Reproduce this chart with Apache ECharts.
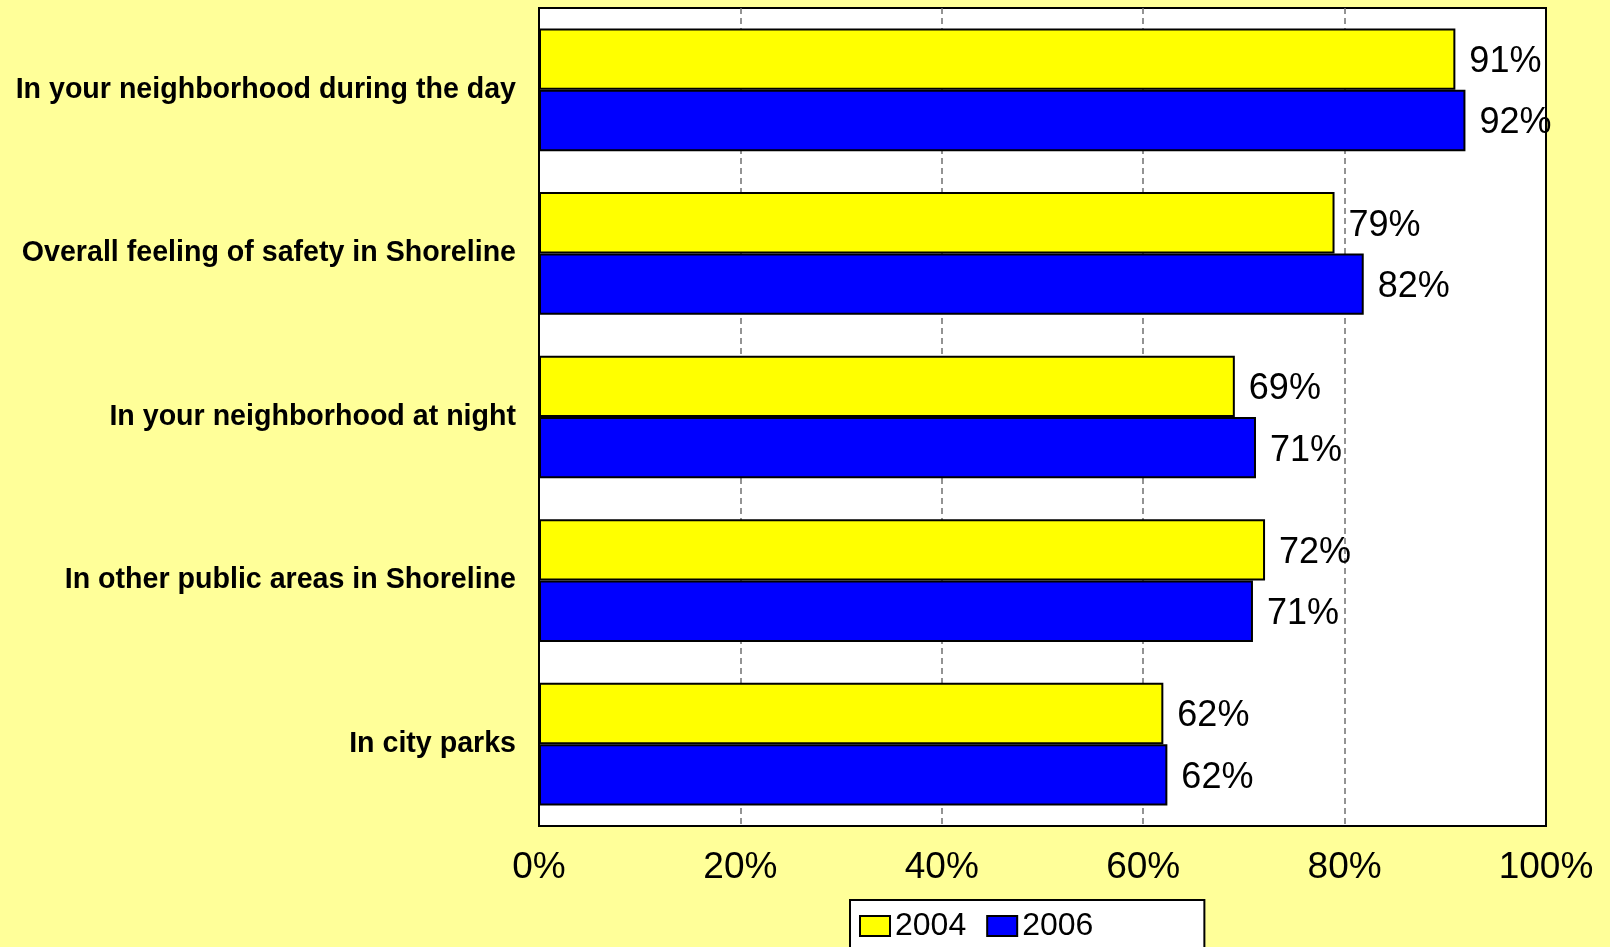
<!DOCTYPE html>
<html>
<head>
<meta charset="utf-8">
<script src="https://cdn.jsdelivr.net/npm/echarts@6/dist/echarts.min.js"></script>
<style>
  html, body { margin: 0; padding: 0; background: #FFFF99; }
  #chart { width: 1610px; height: 947px; }
</style>
</head>
<body>
<div id="chart"></div>
<script>
  let categories = [
    'In your neighborhood during the day',
    'Overall feeling of safety in Shoreline',
    'In your neighborhood at night',
    'In other public areas in Shoreline',
    'In city parks'
  ];
  let values2004 = [91, 79, 69.1, 72.1, 62];
  let values2006 = [92, 81.9, 71.2, 70.9, 62.4];
  let seriesNames = ['2004', '2006'];
  let xTicks = [0, 20, 40, 60, 80, 100];

  let font = '"Liberation Sans", Arial, sans-serif';

  let barLabel = {
    show: true,
    position: 'right',
    distance: 14,
    offset: [0, 3],
    fontFamily: font,
    fontSize: 36,
    color: '#000',
    formatter: function (p) {
      return Math.round(p.value) + '%';
    }
  };

  let chart = echarts.init(document.getElementById('chart'));
  chart.setOption({
    backgroundColor: '#FFFF99',
    animation: false,
    grid: {
      left: 539,
      right: 64,
      top: 8,
      bottom: 121,
      show: true,
      backgroundColor: '#ffffff',
      borderColor: '#000000',
      borderWidth: 2
    },
    legend: {
      data: seriesNames,
      left: 850,
      top: 900,
      padding: [10, 111, 40, 9],
      itemWidth: 30,
      itemHeight: 20,
      itemGap: 20,
      icon: 'rect',
      backgroundColor: '#ffffff',
      borderColor: '#000000',
      borderWidth: 2,
      borderRadius: 0,
      textStyle: {
        fontFamily: font,
        fontSize: 32,
        color: '#000'
      }
    },
    xAxis: {
      type: 'value',
      min: xTicks[0],
      max: xTicks[xTicks.length - 1],
      interval: 20,
      axisLine: { show: false },
      axisTick: { show: false },
      splitLine: {
        show: true,
        showMinLine: false,
        showMaxLine: false,
        lineStyle: { color: '#707070', type: [6, 4], width: 1.5 }
      },
      axisLabel: {
        margin: 23,
        fontFamily: font,
        fontSize: 37,
        color: '#000',
        formatter: '{value}%'
      }
    },
    yAxis: {
      type: 'category',
      data: categories,
      inverse: true,
      axisLine: { show: false },
      axisTick: { show: false },
      axisLabel: {
        margin: 23,
        fontFamily: font,
        fontSize: 28.6,
        fontWeight: 'bold',
        color: '#000',
        padding: [4, 0, 0, 0]
      }
    },
    series: [
      {
        name: seriesNames[0],
        type: 'bar',
        data: values2004,
        barGap: '0%',
        barCategoryGap: '25%',
        itemStyle: { color: '#FFFF00', borderColor: '#000', borderWidth: 2 },
        label: barLabel
      },
      {
        name: seriesNames[1],
        type: 'bar',
        data: values2006,
        barGap: '0%',
        barCategoryGap: '25%',
        itemStyle: { color: '#0000FF', borderColor: '#000', borderWidth: 2 },
        label: barLabel
      }
    ]
  });
</script>
</body>
</html>
